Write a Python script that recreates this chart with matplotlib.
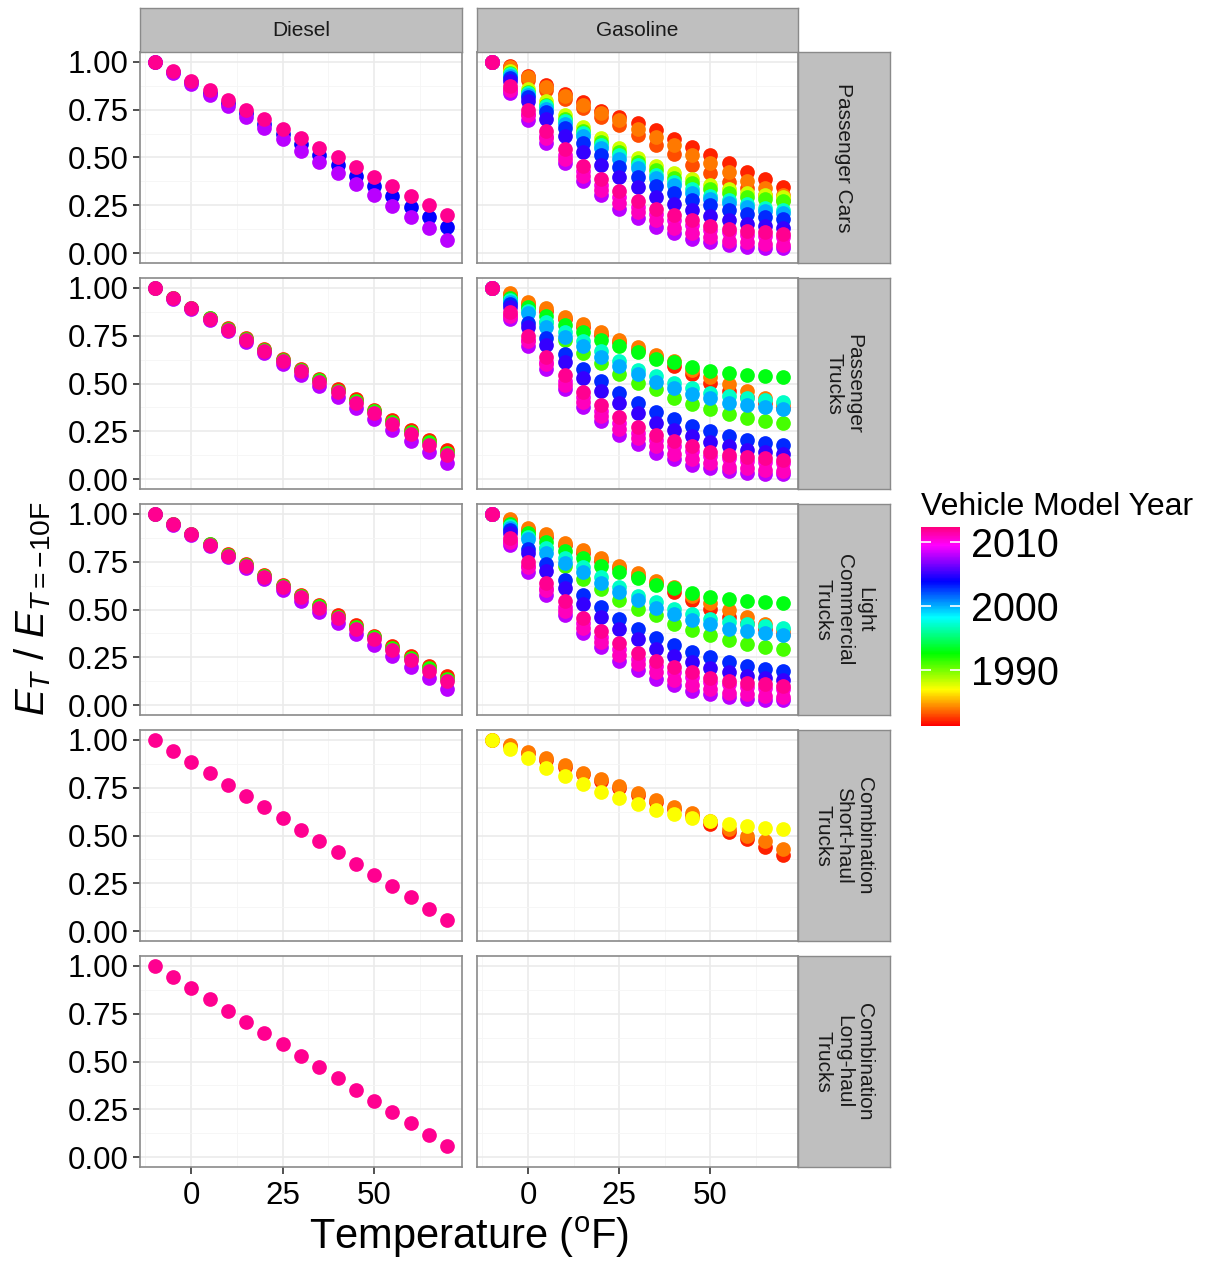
import matplotlib
matplotlib.use("Agg")
import matplotlib.pyplot as plt
import numpy as np
from matplotlib.colors import ListedColormap, Normalize, hsv_to_rgb
from matplotlib.cm import ScalarMappable

plt.rcParams['font.family'] = ['Liberation Sans', 'DejaVu Sans']
plt.rcParams['mathtext.fontset'] = 'custom'
plt.rcParams['mathtext.rm'] = 'Liberation Sans'
plt.rcParams['mathtext.it'] = 'Liberation Sans:italic'

# ---- data: E_T / E_(T=-10F) by temperature, per model year ----
temps = [-10, -5, 0, 5, 10, 15, 20, 25, 30, 35, 40, 45, 50, 55, 60, 65, 70]

fuels = ["Diesel", "Gasoline"]
vehicles = ["Passenger Cars", "Passenger\nTrucks", "Light\nCommercial\nTrucks",
            "Combination\nShort-haul\nTrucks", "Combination\nLong-haul\nTrucks"]

# diesel
dsl_car_2004 = [1.00, 0.946, 0.892, 0.838, 0.784, 0.730, 0.676, 0.622, 0.568, 0.514, 0.460, 0.406, 0.352, 0.298, 0.244, 0.190, 0.136]
dsl_car_2008 = [1.00, 0.942, 0.884, 0.826, 0.768, 0.710, 0.652, 0.594, 0.536, 0.478, 0.420, 0.362, 0.304, 0.246, 0.188, 0.130, 0.072]
dsl_car_2012 = [1.00, 0.950, 0.900, 0.850, 0.800, 0.750, 0.700, 0.650, 0.600, 0.550, 0.500, 0.450, 0.400, 0.350, 0.300, 0.250, 0.200]

dsl_trk_1982 = [1.00, 0.947, 0.894, 0.841, 0.788, 0.735, 0.682, 0.629, 0.576, 0.523, 0.470, 0.417, 0.364, 0.311, 0.258, 0.205, 0.152]
dsl_trk_1992 = [1.00, 0.946, 0.892, 0.839, 0.785, 0.731, 0.677, 0.624, 0.570, 0.516, 0.462, 0.409, 0.355, 0.301, 0.247, 0.194, 0.140]
dsl_trk_2008 = [1.00, 0.943, 0.886, 0.829, 0.772, 0.714, 0.657, 0.600, 0.543, 0.486, 0.429, 0.371, 0.314, 0.257, 0.200, 0.143, 0.086]
dsl_trk_2012 = [1.00, 0.945, 0.891, 0.836, 0.781, 0.727, 0.672, 0.617, 0.563, 0.508, 0.454, 0.399, 0.344, 0.290, 0.235, 0.180, 0.126]

dsl_comb_2012 = [1.00, 0.941, 0.883, 0.824, 0.765, 0.706, 0.648, 0.589, 0.530, 0.471, 0.413, 0.354, 0.295, 0.236, 0.178, 0.119, 0.060]

# gasoline, newer model years (same in the three light-duty rows)
gas_2003 = [1.00, 0.913, 0.814, 0.737, 0.654, 0.576, 0.512, 0.452, 0.400, 0.352, 0.314, 0.279, 0.253, 0.227, 0.206, 0.189, 0.180]
gas_2005 = [1.00, 0.901, 0.792, 0.702, 0.612, 0.530, 0.460, 0.400, 0.348, 0.296, 0.257, 0.224, 0.196, 0.176, 0.155, 0.141, 0.132]
gas_2008 = [1.00, 0.837, 0.697, 0.578, 0.469, 0.379, 0.305, 0.232, 0.184, 0.137, 0.104, 0.077, 0.059, 0.042, 0.033, 0.028, 0.028]
gas_2010 = [1.00, 0.858, 0.728, 0.612, 0.512, 0.429, 0.357, 0.296, 0.244, 0.205, 0.176, 0.150, 0.124, 0.110, 0.098, 0.089, 0.084]
gas_2011 = [1.00, 0.852, 0.720, 0.602, 0.494, 0.405, 0.331, 0.262, 0.215, 0.172, 0.132, 0.106, 0.084, 0.066, 0.058, 0.049, 0.046]
gas_2012 = [1.00, 0.871, 0.749, 0.637, 0.542, 0.457, 0.386, 0.326, 0.274, 0.231, 0.202, 0.172, 0.144, 0.129, 0.118, 0.110, 0.103]

# gasoline passenger cars, older model years
gas_car_1982 = [1.00, 0.978, 0.927, 0.878, 0.832, 0.788, 0.745, 0.711, 0.681, 0.642, 0.598, 0.555, 0.512, 0.469, 0.426, 0.386, 0.348]
gas_car_1983 = [1.00, 0.965, 0.906, 0.854, 0.806, 0.758, 0.711, 0.668, 0.619, 0.564, 0.516, 0.460, 0.417, 0.374, 0.340, 0.305, 0.279]
gas_car_1984 = [1.00, 0.970, 0.918, 0.869, 0.819, 0.776, 0.733, 0.693, 0.650, 0.607, 0.564, 0.512, 0.469, 0.422, 0.378, 0.340, 0.305]
gas_car_1988 = [1.00, 0.953, 0.857, 0.792, 0.719, 0.659, 0.602, 0.550, 0.498, 0.457, 0.417, 0.386, 0.357, 0.334, 0.317, 0.305, 0.296]
gas_car_1991 = [1.00, 0.941, 0.844, 0.774, 0.702, 0.638, 0.581, 0.530, 0.478, 0.435, 0.395, 0.366, 0.336, 0.314, 0.296, 0.284, 0.274]
gas_car_1997 = [1.00, 0.933, 0.837, 0.768, 0.692, 0.629, 0.567, 0.512, 0.460, 0.408, 0.374, 0.334, 0.301, 0.279, 0.260, 0.239, 0.225]
gas_car_2000 = [1.00, 0.927, 0.826, 0.754, 0.676, 0.612, 0.550, 0.494, 0.443, 0.391, 0.357, 0.317, 0.284, 0.262, 0.244, 0.222, 0.210]

# gasoline trucks (passenger + light commercial), older model years
gas_trk_1982 = [1.00, 0.965, 0.913, 0.878, 0.837, 0.797, 0.754, 0.716, 0.676, 0.637, 0.593, 0.547, 0.503, 0.463, 0.429, 0.400, 0.374]
gas_trk_1984 = [1.00, 0.970, 0.923, 0.892, 0.849, 0.809, 0.768, 0.728, 0.689, 0.650, 0.619, 0.572, 0.533, 0.495, 0.460, 0.422, 0.395]
gas_trk_1991 = [1.00, 0.938, 0.892, 0.823, 0.728, 0.659, 0.607, 0.547, 0.503, 0.469, 0.426, 0.391, 0.366, 0.340, 0.322, 0.305, 0.293]
gas_trk_1993 = [1.00, 0.947, 0.901, 0.854, 0.806, 0.771, 0.728, 0.697, 0.664, 0.629, 0.610, 0.585, 0.564, 0.553, 0.543, 0.538, 0.533]
gas_trk_1997 = [1.00, 0.933, 0.878, 0.823, 0.768, 0.719, 0.668, 0.619, 0.572, 0.538, 0.503, 0.474, 0.452, 0.434, 0.422, 0.412, 0.403]
gas_trk_2000 = [1.00, 0.927, 0.866, 0.797, 0.745, 0.693, 0.637, 0.590, 0.547, 0.509, 0.474, 0.443, 0.422, 0.400, 0.386, 0.377, 0.368]

# gasoline combination short-haul
gas_comb_1982 = [1.00, 0.969, 0.931, 0.895, 0.859, 0.821, 0.785, 0.750, 0.712, 0.676, 0.638, 0.603, 0.560, 0.517, 0.482, 0.439, 0.400]
gas_comb_1984 = [1.00, 0.974, 0.936, 0.902, 0.867, 0.828, 0.793, 0.759, 0.720, 0.684, 0.650, 0.615, 0.577, 0.534, 0.499, 0.470, 0.430]
gas_comb_1987 = [1.00, 0.953, 0.902, 0.853, 0.810, 0.767, 0.729, 0.694, 0.663, 0.634, 0.611, 0.589, 0.573, 0.560, 0.551, 0.539, 0.534]

gas_new = [(2003, gas_2003), (2005, gas_2005), (2008, gas_2008),
           (2010, gas_2010), (2011, gas_2011), (2012, gas_2012)]
gas_trk = [(1982, gas_trk_1982), (1984, gas_trk_1984), (1991, gas_trk_1991),
           (1993, gas_trk_1993), (1997, gas_trk_1997), (2000, gas_trk_2000)] + gas_new
dsl_trk = [(1982, dsl_trk_1982), (1992, dsl_trk_1992), (2008, dsl_trk_2008), (2012, dsl_trk_2012)]

panels = {
    (0, 0): [(2004, dsl_car_2004), (2008, dsl_car_2008), (2012, dsl_car_2012)],
    (0, 1): [(1982, gas_car_1982), (1983, gas_car_1983), (1984, gas_car_1984),
             (1988, gas_car_1988), (1991, gas_car_1991), (1997, gas_car_1997),
             (2000, gas_car_2000)] + gas_new,
    (1, 0): dsl_trk,
    (1, 1): gas_trk,
    (2, 0): dsl_trk,
    (2, 1): gas_trk,
    (3, 0): [(2012, dsl_comb_2012)],
    (3, 1): [(1982, gas_comb_1982), (1984, gas_comb_1984), (1987, gas_comb_1987)],
    (4, 0): [(2012, dsl_comb_2012)],
}

# ---- colours: hue sweep red -> pink ----
hues = np.linspace(0, 330 / 360, 256)
cmap = ListedColormap(hsv_to_rgb(np.column_stack([hues, np.ones(256), np.ones(256)])))
norm = Normalize(1981.25, 2012.4)

W, H = 1209, 1262
fig = plt.figure(figsize=(W / 100, H / 100), dpi=100)


def rect(x0, y0, w, h):
    return [x0 / W, 1 - (y0 + h) / H, w / W, h / H]


col_x = [140, 477]
col_w = [322, 321]
row_top = [52, 278, 504, 730, 956]
ph = 211
border = '#8a8a8a'

for r in range(len(vehicles)):
    for c in range(len(fuels)):
        ax = fig.add_axes(rect(col_x[c], row_top[r], col_w[c], ph))
        for yr, vals in panels.get((r, c), []):
            ax.scatter(temps, vals, s=112, color=cmap(norm(yr)), linewidths=0, zorder=3)
        ax.set_xlim(-14, 74)
        ax.set_ylim(-0.05, 1.05)
        ax.set_xticks([0, 25, 50])
        ax.set_xticks([-12.5, 12.5, 37.5, 62.5], minor=True)
        ax.set_yticks([0, 0.25, 0.5, 0.75, 1.0])
        ax.set_yticks([0.125, 0.375, 0.625, 0.875], minor=True)
        ax.grid(which='major', color='#EBEBEB', lw=1.2)
        ax.grid(which='minor', color='#F5F5F5', lw=0.6)
        ax.set_axisbelow(True)
        for sp in ax.spines.values():
            sp.set_color(border)
            sp.set_linewidth(1.2)
        ax.tick_params(which='minor', length=0)
        ax.tick_params(which='major', length=5, width=1.2, color='#333333',
                       labelsize=22.5, labelcolor='black', pad=3)
        if c == 0:
            ax.set_yticklabels(["0.00", "0.25", "0.50", "0.75", "1.00"])
        else:
            ax.tick_params(left=False, labelleft=False)
        if r != len(vehicles) - 1:
            ax.tick_params(bottom=False, labelbottom=False)
        else:
            ax.tick_params(axis='x', pad=5)

# top strips
for c, fuel in enumerate(fuels):
    sax = fig.add_axes(rect(col_x[c], 8, col_w[c], 44))
    sax.set_facecolor('#BFBFBF')
    sax.set_xticks([])
    sax.set_yticks([])
    for sp in sax.spines.values():
        sp.set_color(border)
        sp.set_linewidth(1.0)
    sax.text(0.5, 0.5, fuel, ha='center', va='center', fontsize=15,
             color='#1a1a1a', transform=sax.transAxes)

# right strips
for r, veh in enumerate(vehicles):
    sax = fig.add_axes(rect(798, row_top[r], 92, ph))
    sax.set_facecolor('#BFBFBF')
    sax.set_xticks([])
    sax.set_yticks([])
    for sp in sax.spines.values():
        sp.set_color(border)
        sp.set_linewidth(1.0)
    sax.text(0.5, 0.5, veh, ha='center', va='center', rotation=-90, fontsize=15,
             color='#1a1a1a', linespacing=1.1, multialignment='center',
             transform=sax.transAxes)

# axis titles
fig.text(469 / W, 1 - 1237 / H, r'Temperature ($^{\mathrm{o}}$F)', ha='center',
         va='center', fontsize=30)
fig.text(33 / W, 1 - 609 / H, r'$E_T\ /\ E_{T\mathrm{=-10F}}$', ha='center',
         va='center', rotation=90, fontsize=29)

# colour legend
fig.text(921 / W, 1 - 507 / H, 'Vehicle Model Year', ha='left', va='center', fontsize=23)
cax = fig.add_axes(rect(921, 527, 39, 199))
cb = fig.colorbar(ScalarMappable(norm=norm, cmap=cmap), cax=cax, ticks=[1990, 2000, 2010])
cb.outline.set_visible(False)
cax.tick_params(which='major', direction='in', length=7, width=1.2, color='white',
                left=True, right=True, labelleft=False, labelright=True,
                labelsize=28.5, pad=8)
cax.tick_params(which='minor', length=0)

fig.savefig('out.png', dpi=100)
